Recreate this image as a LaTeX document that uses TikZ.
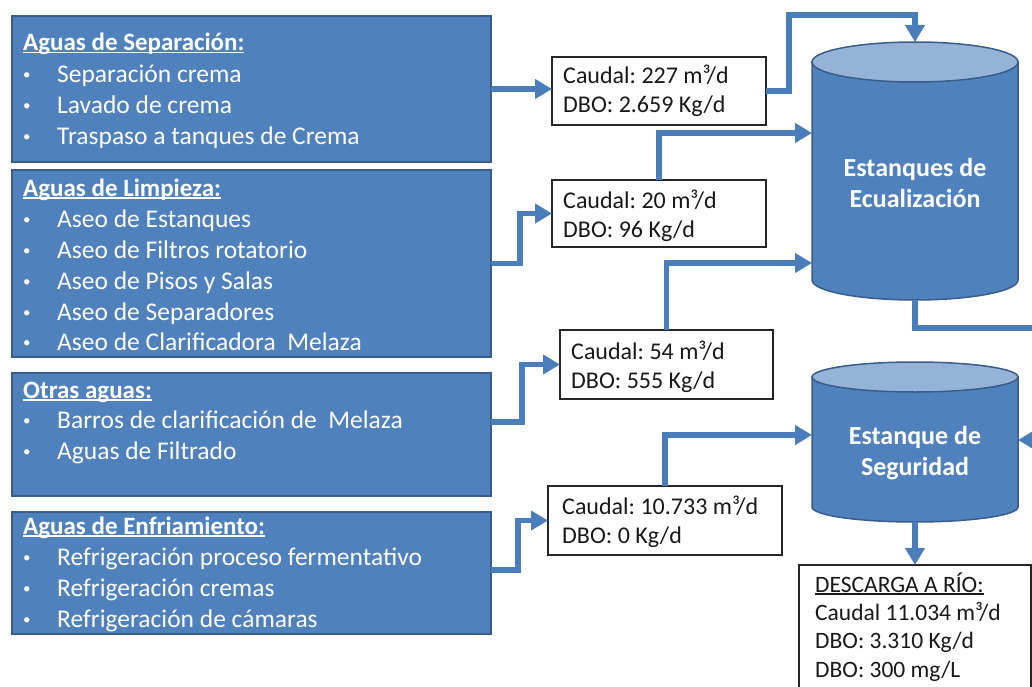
\documentclass[tikz,border=0pt]{standalone}
\usepackage{fontspec}
\setmainfont{Carlito}
\usetikzlibrary{arrows.meta}
\frenchspacing

\definecolor{boxblue}{HTML}{4F81BD}
\definecolor{boxline}{HTML}{385D8A}
\definecolor{topblue}{HTML}{95B3D7}
\definecolor{tuboblue}{HTML}{4A7EBB}

\newcommand{\subrayado}[1]{\setbox0\hbox{#1}\rlap{\rule[-2.5pt]{\wd0}{1.2pt}}\box0}

\tikzset{
  grupo/.style={draw=boxline, line width=1.5pt, fill=boxblue, anchor=north west, inner sep=0pt, outer sep=0pt},
  dato/.style={draw=black!85, line width=1.8pt, fill=white, anchor=north west, inner sep=0pt, outer sep=0pt},
  tanque/.style={inner sep=0pt, outer sep=0pt, minimum width=206pt},
  titulo/.style={anchor=base west, inner sep=0pt, text=white, font=\fontsize{25pt}{30pt}\selectfont\bfseries},
  vineta/.style={anchor=base west, inner sep=0pt, text=white, font=\fontsize{25.5pt}{30pt}\selectfont},
  valor/.style={anchor=base west, inner sep=0pt, text=black!90, font=\fontsize{24pt}{29pt}\selectfont},
  salida/.style={anchor=base west, inner sep=0pt, text=black!90, font=\fontsize{23.5pt}{28pt}\selectfont},
  rotulo/.style={anchor=base, inner sep=0pt, text=white, font=\fontsize{26pt}{31pt}\selectfont\bfseries},
  tubo/.style={draw=tuboblue, line width=5.5pt, -{Triangle[length=17pt,width=19pt]}},
}
\newcommand{\pto}{\makebox[34pt][l]{\raisebox{3pt}{\fontsize{15pt}{15pt}\selectfont •}}}

\begin{document}
\begin{tikzpicture}[x=1pt,y=-1pt]
  \useasboundingbox (0,0) rectangle (1032,687);

  % fuentes de agua
  \node[grupo, minimum width=479pt, minimum height=146pt] (sep) at (12,16) {};
  \draw (23,51) node[titulo] (sepT) {\subrayado{Aguas de Separación:}};
  \draw (23,83) node[vineta] (sep1) {\pto Separación crema};
  \draw (23,114) node[vineta] (sep2) {\pto Lavado de crema};
  \draw (23,145) node[vineta] (sep3) {\pto Traspaso a tanques de Crema};

  \node[grupo, minimum width=479pt, minimum height=187pt] (lim) at (12,170) {};
  \draw (23,196) node[titulo] (limT) {\subrayado{Aguas de Limpieza:}};
  \draw (23,227) node[vineta] (lim1) {\pto Aseo de Estanques};
  \draw (23,258) node[vineta] (lim2) {\pto Aseo de Filtros rotatorio};
  \draw (23,289) node[vineta] (lim3) {\pto Aseo de Pisos y Salas};
  \draw (23,320) node[vineta] (lim4) {\pto Aseo de Separadores};
  \draw (23,350) node[vineta] (lim5) {\pto Aseo de Clarificadora~\ Melaza};

  \node[grupo, minimum width=479pt, minimum height=123pt] (otr) at (12,373) {};
  \draw (23,398) node[titulo] (otrT) {\subrayado{Otras aguas:}};
  \draw (23,428) node[vineta] (otr1) {\pto Barros de clarificación de~\ Melaza};
  \draw (23,459) node[vineta] (otr2) {\pto Aguas de Filtrado};

  \node[grupo, minimum width=479pt, minimum height=122pt] (enf) at (12,512) {};
  \draw (23,534) node[titulo] (enfT) {\subrayado{Aguas de Enfriamiento:}};
  \draw (23,565) node[vineta] (enf1) {\pto Refrigeración proceso fermentativo};
  \draw (23,596) node[vineta] (enf2) {\pto Refrigeración cremas};
  \draw (23,627) node[vineta] (enf3) {\pto Refrigeración de cámaras};

  % caudales
  \node[dato, minimum width=214pt, minimum height=68pt] (cau1) at (552,57) {};
  \draw (563,84) node[valor] (cau1a) {Caudal: 227 m³/d};
  \draw (563,113) node[valor] (cau1b) {DBO: 2.659 Kg/d};

  \node[dato, minimum width=214pt, minimum height=67pt] (cau2) at (552,180) {};
  \draw (563,208) node[valor] (cau2a) {Caudal: 20 m³/d};
  \draw (563,237) node[valor] (cau2b) {DBO: 96 Kg/d};

  \node[dato, minimum width=213pt, minimum height=69pt] (cau3) at (560,330) {};
  \draw (571,359) node[valor] (cau3a) {Caudal: 54 m³/d};
  \draw (571,388) node[valor] (cau3b) {DBO: 555 Kg/d};

  \node[dato, minimum width=234pt, minimum height=69pt] (cau4) at (548,486) {};
  \draw (562,514) node[valor] (cau4a) {Caudal: 10.733 m³/d};
  \draw (562,543) node[valor] (cau4b) {DBO: 0 Kg/d};

  \node[dato, minimum width=232pt, minimum height=140pt] (des) at (799,565) {};
  \draw (815,592) node[salida] (desT) {\subrayado{DESCARGA A RÍO:}};
  \draw (815,620) node[salida] (des1) {Caudal 11.034 m³/d};
  \draw (815,648) node[salida] (des2) {DBO: 3.310 Kg/d};
  \draw (815,677) node[salida] (des3) {DBO: 300 mg/L};

  % estanques
  \filldraw[fill=boxblue, draw=boxline, line width=1.5pt] (812,62) -- (812,280)
    arc[start angle=180, end angle=360, x radius=103pt, y radius=20pt] -- (1018,62) -- cycle;
  \filldraw[fill=topblue, draw=boxline, line width=1.5pt] (915,62) ellipse [x radius=103pt, y radius=20pt];
  \node[tanque, minimum height=238pt] (ecu) at (915,181) {};
  \draw (915,176) node[rotulo] (ecuA) {Estanques de};
  \draw (915,207) node[rotulo] (ecuB) {Ecualización};

  \filldraw[fill=boxblue, draw=boxline, line width=1.5pt] (812,377) -- (812,507)
    arc[start angle=180, end angle=360, x radius=103pt, y radius=15pt] -- (1018,377) -- cycle;
  \filldraw[fill=topblue, draw=boxline, line width=1.5pt] (915,377) ellipse [x radius=103pt, y radius=15pt];
  \node[tanque, minimum height=145pt] (seg) at (915,449.5) {};
  \draw (915,444) node[rotulo] (segA) {Estanque de};
  \draw (915,475) node[rotulo] (segB) {Seguridad};

  % tuberias
  \coordinate (codo) at (789,15);
  \coordinate (vuelta) at (1045,440);
  \draw[tubo] (sep.east) -- (sep.east -| cau1.west);
  \draw[tubo] (lim.east) -- ++(29,0) |- (cau2.west);
  \draw[tubo] ([yshift=12.5pt]otr.east) -- ++(31,0) |- (cau3.west);
  \draw[tubo] ([yshift=3pt]enf.east) -- ++(27,0) |- (cau4.west);
  \draw[tubo] (cau1.east) -| (codo) -| ([yshift=20pt]ecu.north);
  \draw[tubo] (cau2.north) |- ([yshift=48pt]ecu.west);
  \draw[tubo] (cau3.north) |- ([yshift=-82pt]ecu.west);
  \draw[tubo] (cau4.north) |- ([yshift=14.5pt]seg.west);
  \draw[tubo] (ecu.south) -- ++(0,28) -| (vuelta) -- (vuelta -| seg.east);
  \draw[tubo] (seg.south) -- (des.north);
\end{tikzpicture}
\end{document}
